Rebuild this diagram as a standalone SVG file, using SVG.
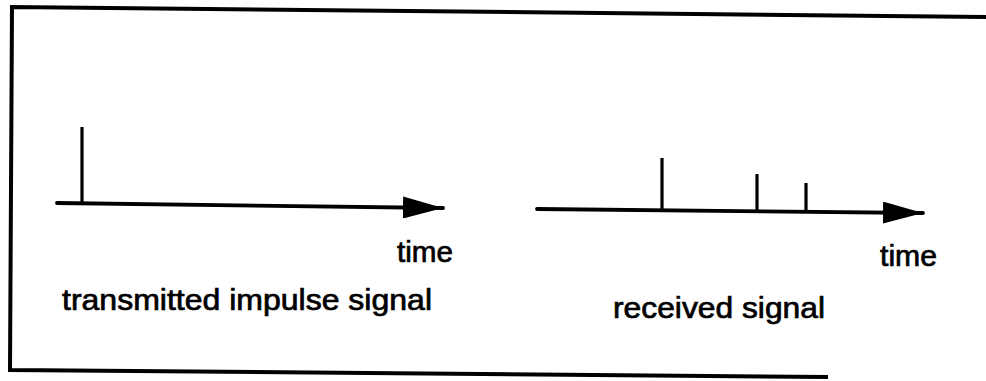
<svg xmlns="http://www.w3.org/2000/svg" width="986" height="381" viewBox="0 0 986 381">
  <defs>
    <marker id="arrow" markerUnits="userSpaceOnUse" viewBox="0 0 40 22" markerWidth="40" markerHeight="22" refX="40" refY="11" orient="auto">
      <path d="M0,0 L40,11 L0,22 Z" fill="#000"/>
    </marker>
    <style>
      .frame { stroke:#000; stroke-width:4; fill:none; stroke-linecap:square; }
      .axis { stroke:#000; stroke-width:3.8; fill:none; stroke-linecap:round; }
      .spike { stroke:#000; stroke-width:3.2; fill:none; }
      .lbl { font-family:"Liberation Sans", Arial, Helvetica, sans-serif; font-size:29px; fill:#000; stroke:#000; stroke-width:0.7; }
    </style>
  </defs>
  <rect width="986" height="381" fill="#fff"/>

  <g id="frame">
    <polyline class="frame" points="986,17 12,7 10,370 826,377"/>
  </g>

  <g id="connectors">
    <line class="axis" x1="57" y1="203" x2="443" y2="208" marker-end="url(#arrow)"/>
    <line class="axis" x1="537" y1="209" x2="923" y2="213" marker-end="url(#arrow)"/>
  </g>

  <g id="transmitted">
    <line class="spike" x1="82" y1="127" x2="82" y2="204"/>
    <text class="lbl" x="397" y="262" textLength="56" lengthAdjust="spacingAndGlyphs">time</text>
    <text class="lbl" x="62" y="310" textLength="370" lengthAdjust="spacingAndGlyphs">transmitted impulse signal</text>
  </g>

  <g id="received">
    <line class="spike" x1="662" y1="158" x2="662" y2="211"/>
    <line class="spike" x1="757" y1="174" x2="757" y2="212"/>
    <line class="spike" x1="806" y1="183" x2="806" y2="213"/>
    <text class="lbl" x="880" y="266" textLength="57" lengthAdjust="spacingAndGlyphs">time</text>
    <text class="lbl" x="613" y="318" textLength="212" lengthAdjust="spacingAndGlyphs">received signal</text>
  </g>
</svg>
